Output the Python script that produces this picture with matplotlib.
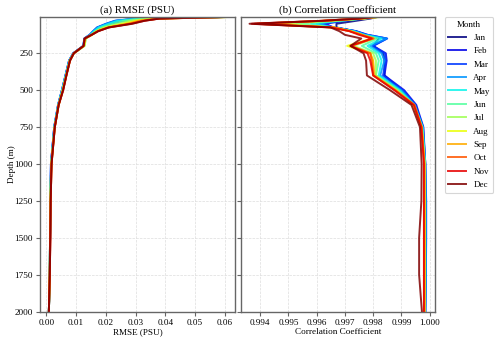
import numpy as np
import matplotlib
matplotlib.use("Agg")
import matplotlib.pyplot as plt

plt.rcParams['font.family'] = 'serif'
plt.rcParams['font.serif'] = ['Liberation Serif', 'DejaVu Serif']

months = ['Jan', 'Feb', 'Mar', 'Apr', 'May', 'Jun', 'Jul', 'Aug', 'Sep', 'Oct', 'Nov', 'Dec']
depths = [5, 15, 30, 50, 75, 100, 125, 150, 200, 250, 300, 400, 500, 600, 750, 1000, 1250, 1500, 1750, 2000]

rmse = [
    [0.0585, 0.034, 0.026, 0.0215, 0.0180, 0.0162, 0.0150, 0.0130, 0.0126, 0.0091, 0.0078, 0.0066, 0.0054, 0.0040, 0.0027, 0.0016, 0.0013, 0.0012, 0.0011, 0.0008],
    [0.0580, 0.031, 0.0235, 0.0205, 0.0172, 0.0158, 0.0146, 0.0128, 0.0124, 0.0090, 0.0076, 0.0064, 0.0052, 0.0039, 0.0026, 0.0015, 0.0013, 0.0012, 0.0011, 0.0008],
    [0.0575, 0.030, 0.0230, 0.0200, 0.0170, 0.0157, 0.0145, 0.0127, 0.0124, 0.0090, 0.0076, 0.0064, 0.0052, 0.0039, 0.0026, 0.0015, 0.0013, 0.0012, 0.0011, 0.0008],
    [0.0580, 0.030, 0.0232, 0.0203, 0.0172, 0.0158, 0.0146, 0.0128, 0.0124, 0.0090, 0.0076, 0.0064, 0.0052, 0.0039, 0.0026, 0.0015, 0.0013, 0.0012, 0.0011, 0.0008],
    [0.0585, 0.031, 0.0240, 0.0210, 0.0176, 0.0160, 0.0148, 0.0129, 0.0125, 0.0091, 0.0077, 0.0065, 0.0053, 0.0040, 0.0027, 0.0016, 0.0013, 0.0012, 0.0011, 0.0008],
    [0.0590, 0.033, 0.0260, 0.0225, 0.0185, 0.0165, 0.0150, 0.0132, 0.0128, 0.0092, 0.0078, 0.0066, 0.0054, 0.0040, 0.0027, 0.0016, 0.0013, 0.0012, 0.0011, 0.0008],
    [0.0600, 0.035, 0.0280, 0.0245, 0.0193, 0.0168, 0.0152, 0.0133, 0.0128, 0.0092, 0.0078, 0.0066, 0.0054, 0.0040, 0.0027, 0.0016, 0.0013, 0.0012, 0.0011, 0.0008],
    [0.0605, 0.037, 0.0300, 0.0260, 0.0200, 0.0170, 0.0153, 0.0131, 0.0127, 0.0092, 0.0078, 0.0066, 0.0055, 0.0041, 0.0028, 0.0016, 0.0013, 0.0012, 0.0011, 0.0008],
    [0.0600, 0.038, 0.0310, 0.0270, 0.0205, 0.0172, 0.0153, 0.0130, 0.0126, 0.0092, 0.0079, 0.0067, 0.0055, 0.0041, 0.0028, 0.0017, 0.0014, 0.0012, 0.0011, 0.0008],
    [0.0595, 0.038, 0.0320, 0.0280, 0.0208, 0.0173, 0.0152, 0.0129, 0.0125, 0.0092, 0.0079, 0.0067, 0.0056, 0.0041, 0.0028, 0.0017, 0.0014, 0.0013, 0.0011, 0.0008],
    [0.0590, 0.038, 0.0330, 0.0285, 0.0210, 0.0174, 0.0152, 0.0129, 0.0125, 0.0092, 0.0079, 0.0067, 0.0056, 0.0041, 0.0028, 0.0017, 0.0014, 0.0013, 0.0011, 0.0008],
    [0.0580, 0.038, 0.0330, 0.0290, 0.0210, 0.0175, 0.0152, 0.0128, 0.0125, 0.0092, 0.0079, 0.0067, 0.0056, 0.0041, 0.0028, 0.0017, 0.0014, 0.0013, 0.0011, 0.0008],
]

corr = [
    [0.99813, 0.9979, 0.9974, 0.9967, 0.9967, 0.99735, 0.9977, 0.9982, 0.9980, 0.99835, 0.99840, 0.99840, 0.99900, 0.99950, 0.99975, 0.99982, 0.99983, 0.99983, 0.99983, 0.99982],
    [0.99805, 0.9977, 0.9970, 0.9963, 0.9966, 0.99740, 0.9978, 0.99848, 0.9980, 0.99845, 0.99848, 0.99840, 0.99910, 0.99953, 0.99978, 0.99985, 0.99988, 0.99988, 0.99987, 0.99985],
    [0.99800, 0.9976, 0.9969, 0.9961, 0.9966, 0.99738, 0.9978, 0.99850, 0.9980, 0.99840, 0.99845, 0.99835, 0.99905, 0.99950, 0.99977, 0.99985, 0.99987, 0.99987, 0.99987, 0.99985],
    [0.99800, 0.9976, 0.9968, 0.9960, 0.9966, 0.99735, 0.9977, 0.99848, 0.9979, 0.99830, 0.99840, 0.99825, 0.99900, 0.99948, 0.99976, 0.99985, 0.99986, 0.99986, 0.99986, 0.99985],
    [0.99805, 0.9976, 0.9968, 0.9958, 0.9966, 0.99730, 0.9977, 0.99830, 0.9978, 0.99820, 0.99830, 0.99820, 0.99895, 0.99946, 0.99975, 0.99984, 0.99985, 0.99985, 0.99985, 0.99984],
    [0.99810, 0.9977, 0.9968, 0.9953, 0.9966, 0.99725, 0.9976, 0.99815, 0.9976, 0.99810, 0.99820, 0.99810, 0.99890, 0.99945, 0.99974, 0.99983, 0.99984, 0.99984, 0.99984, 0.99983],
    [0.99815, 0.9977, 0.9966, 0.9947, 0.9966, 0.99720, 0.9976, 0.99805, 0.9973, 0.99800, 0.99810, 0.99810, 0.99885, 0.99944, 0.99973, 0.99983, 0.99984, 0.99984, 0.99984, 0.99983],
    [0.99820, 0.9976, 0.9963, 0.9941, 0.9966, 0.99718, 0.9976, 0.99795, 0.99708, 0.99790, 0.99800, 0.99800, 0.99880, 0.99942, 0.99972, 0.99982, 0.99983, 0.99983, 0.99983, 0.99982],
    [0.99810, 0.9976, 0.9963, 0.9939, 0.9966, 0.99718, 0.9976, 0.99800, 0.9972, 0.99790, 0.99800, 0.99805, 0.99880, 0.99945, 0.99972, 0.99982, 0.99982, 0.99982, 0.99982, 0.99982],
    [0.99810, 0.9975, 0.9962, 0.9938, 0.9966, 0.99718, 0.9976, 0.99802, 0.9972, 0.99790, 0.99795, 0.99801, 0.99878, 0.99947, 0.99972, 0.99981, 0.99981, 0.99981, 0.99981, 0.99981],
    [0.99800, 0.9975, 0.9962, 0.9937, 0.9965, 0.99715, 0.9975, 0.99795, 0.9972, 0.99780, 0.99790, 0.99800, 0.99875, 0.99944, 0.99971, 0.99980, 0.99980, 0.99980, 0.99980, 0.99980],
    [0.99800, 0.9975, 0.9962, 0.99362, 0.99649, 0.99680, 0.9970, 0.99758, 0.9972, 0.99766, 0.99775, 0.99778, 0.99860, 0.99936, 0.99966, 0.99972, 0.99971, 0.99963, 0.99963, 0.99973],
]

fig = plt.figure(figsize=(5.0, 3.42), dpi=100)
ax1 = fig.add_axes([0.080, 0.0886, 0.390, 0.8614])
ax2 = fig.add_axes([0.4814, 0.0886, 0.3886, 0.8614], sharey=ax1)

colors = plt.cm.jet(np.linspace(0, 1, len(months)))
lines = []
for i, m in enumerate(months):
    l, = ax1.plot(rmse[i], depths, color=colors[i], lw=1.4, alpha=0.85, label=m)
    ax2.plot(corr[i], depths, color=colors[i], lw=1.4, alpha=0.85)
    lines.append(l)

ax1.set_ylim(2000, depths[0])
ax1.set_yticks([250, 500, 750, 1000, 1250, 1500, 1750, 2000])
ax1.set_xticks([0.00, 0.01, 0.02, 0.03, 0.04, 0.05, 0.06])
ax1.set_xticklabels(['0.00', '0.01', '0.02', '0.03', '0.04', '0.05', '0.06'])
ax2.set_xticks([0.994, 0.995, 0.996, 0.997, 0.998, 0.999, 1.000])
ax2.set_xticklabels(['0.994', '0.995', '0.996', '0.997', '0.998', '0.999', '1.000'])
ax2.tick_params(labelleft=False)

for ax in (ax1, ax2):
    ax.grid(True, ls='--', lw=0.5, color='#dddddd')
    ax.set_axisbelow(True)
    for s in ax.spines.values():
        s.set_color('#666666')
        s.set_linewidth(1.0)
    ax.tick_params(labelsize=6.6, length=3, width=0.8, color='#666666', pad=2)

ax1.set_title('(a) RMSE (PSU)', fontsize=7.8, pad=3)
ax2.set_title('(b) Correlation Coefficient', fontsize=7.8, pad=3)
ax1.set_xlabel('RMSE (PSU)', fontsize=6.6, labelpad=1)
ax2.set_xlabel('Correlation Coefficient', fontsize=6.6, labelpad=1)
ax1.set_ylabel('Depth (m)', fontsize=6.6, labelpad=-1)

leg = fig.legend(handles=lines, labels=months, loc='upper left', bbox_to_anchor=(0.889, 0.950),
                 title='Month', fontsize=6.5, title_fontsize=6.5, frameon=True, fancybox=True,
                 handlelength=2.0, borderaxespad=0, labelspacing=0.56)
leg.get_frame().set_edgecolor('#cccccc')
leg.get_frame().set_linewidth(0.8)

fig.savefig('out.png', dpi=100)
